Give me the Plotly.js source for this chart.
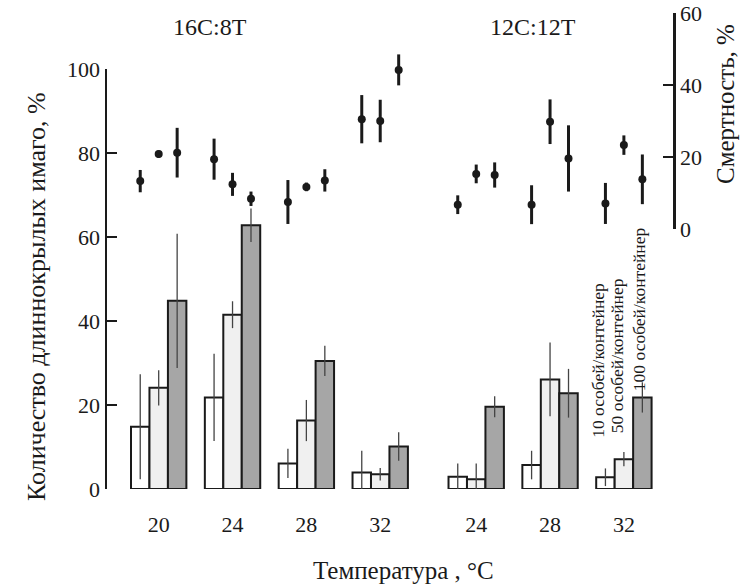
<!DOCTYPE html>
<html>
<head>
<meta charset="utf-8">
<script src="https://cdn.plot.ly/plotly-3.0.1.min.js"></script>
<style>html,body{margin:0;padding:0;background:#fff;}</style>
</head>
<body>
<div id="chart" style="width:741px;height:586px;"></div>
<script>
// Group positions along x (two photoperiod blocks)
const groupPos = [0, 1, 2, 3, 4.3, 5.3, 6.3];
const tickLabels = ['20', '24', '28', '32', '24', '28', '32'];
const seriesNames = ['10 особей/контейнер', '50 особей/контейнер', '100 особей/контейнер'];

// Long-winged adults, % (left axis)
const long10 = [14.8, 21.8, 6.1, 3.9, 2.9, 5.7, 2.8];
const long10Err = [12.5, 10.4, 3.5, 5.2, 3.2, 3.4, 2.1];
const long50 = [24.1, 41.5, 16.3, 3.5, 2.3, 26.1, 7.1];
const long50Err = [4.2, 3.2, 4.9, 1.5, 3.8, 8.8, 1.7];
const long100 = [44.8, 62.8, 30.5, 10.1, 19.6, 22.8, 21.8];
const long100Err = [16, 4, 3.6, 3.4, 2.5, 5.8, 3.6];

// Mortality, % (right axis)
const mort10 = [13.3, 19.4, 7.5, 30.5, 6.75, 6.75, 7.1];
const mort10Err = [3.1, 5.7, 6.1, 6.7, 2.6, 5.4, 5.7];
const mort50 = [20.8, 12.4, 11.7, 30, 15.3, 29.8, 23.3];
const mort50Err = [1, 3.2, 1.2, 5.9, 2.6, 6.2, 2.7];
const mort100 = [21.2, 8.4, 13.5, 44.2, 15, 19.6, 13.8];
const mort100Err = [6.9, 2, 3.1, 4.3, 3.5, 9.2, 6.9];

const barW = 0.25;
const offsets = [-0.25, 0, 0.25];
const fills = ['#ffffff', '#f0f0f0', '#a6a6a6'];
const longVals = [long10, long50, long100];
const longErrs = [long10Err, long50Err, long100Err];
const mortVals = [mort10, mort50, mort100];
const mortErrs = [mort10Err, mort50Err, mort100Err];

const FONT = '"Liberation Serif", "Times New Roman", serif';
const INK = '#1a1a1a';

const traces = [];
for (let i = 0; i < 3; i++) {
  traces.push({
    type: 'bar', name: seriesNames[i],
    x: groupPos, y: longVals[i],
    width: barW, offset: offsets[i] - barW / 2,
    xaxis: 'x', yaxis: 'y',
    marker: {color: fills[i], line: {color: INK, width: 2}},
    error_y: {type: 'data', array: longErrs[i], visible: true, thickness: 1.3, width: 0, color: '#444'},
    showlegend: false, hoverinfo: 'skip'
  });
}
for (let i = 0; i < 3; i++) {
  traces.push({
    type: 'scatter', mode: 'markers',
    x: groupPos.map(g => g + offsets[i]), y: mortVals[i],
    xaxis: 'x', yaxis: 'y2',
    marker: {color: INK, size: 8, symbol: 'circle'},
    error_y: {type: 'data', array: mortErrs[i], visible: true, thickness: 3, width: 0, color: INK},
    showlegend: false, hoverinfo: 'skip', cliponaxis: false
  });
}

const W = 566, H = 476, L = 107, T = 13;
const px = v => (v - L) / W;
const py = v => (T + H - v) / H;
const ann = (text, x, y, size, angle) => ({
  text: text, xref: 'paper', yref: 'paper', x: px(x), y: py(y),
  xanchor: 'center', yanchor: 'middle', textangle: angle || 0,
  showarrow: false, font: {family: FONT, size: size, color: INK}
});

const annotations = [
  ann('16C:8T', 210, 27, 24),
  ann('12C:12T', 533, 27, 24),
  ann('Количество длиннокрылых имаго, %', 36, 297, 26, -90),
  ann('Смертность, %', 725, 104, 25, -90),
  ann('Температура , °C', 403, 570, 25),
  {text: seriesNames[0], xref: 'x', yref: 'y', x: groupPos[6] + offsets[0], y: 11.7, xshift: -7, xanchor: 'center', yanchor: 'bottom', textangle: -90, showarrow: false, font: {family: FONT, size: 17.5, color: INK}},
  {text: seriesNames[1], xref: 'x', yref: 'y', x: groupPos[6] + offsets[1], y: 12.9, xshift: -7, xanchor: 'center', yanchor: 'bottom', textangle: -90, showarrow: false, font: {family: FONT, size: 17.5, color: INK}},
  {text: seriesNames[2], xref: 'x', yref: 'y', x: groupPos[6] + offsets[2], y: 22.9, xshift: -4, xanchor: 'center', yanchor: 'bottom', textangle: -90, showarrow: false, font: {family: FONT, size: 17.5, color: INK}}
];

const layout = {
  width: 741, height: 586,
  margin: {l: L, r: 741 - L - W, t: T, b: 586 - T - H, pad: 0},
  paper_bgcolor: '#ffffff', plot_bgcolor: 'rgba(0,0,0,0)',
  barmode: 'overlay',
  showlegend: false,
  font: {family: FONT, color: INK},
  xaxis: {
    range: [-0.70, 6.965], showline: false, showgrid: false, zeroline: false,
    tickvals: groupPos, ticktext: tickLabels,
    ticks: 'outside', ticklen: 16, tickcolor: 'rgba(0,0,0,0)',
    tickfont: {family: FONT, size: 22, color: INK}
  },
  yaxis: {
    domain: [0, 420 / H], range: [0, 100], anchor: 'x',
    showline: true, linewidth: 2.5, linecolor: INK, showgrid: false, zeroline: false,
    ticks: 'inside', ticklen: 10, tickwidth: 2.5, tickcolor: INK,
    tickvals: [0, 20, 40, 60, 80, 100],
    tickfont: {family: FONT, size: 22, color: INK}
  },
  yaxis2: {
    domain: [260 / H, 1], range: [0, 60], anchor: 'x', side: 'right',
    showline: true, linewidth: 2.5, linecolor: INK, showgrid: false, zeroline: false,
    ticks: 'inside', ticklen: 10, tickwidth: 2.5, tickcolor: INK,
    tickvals: [0, 20, 40, 60],
    tickfont: {family: FONT, size: 22, color: INK}
  },
  annotations: annotations
};

Plotly.newPlot('chart', traces, layout, {staticPlot: true, displayModeBar: false});
</script>
</body>
</html>
